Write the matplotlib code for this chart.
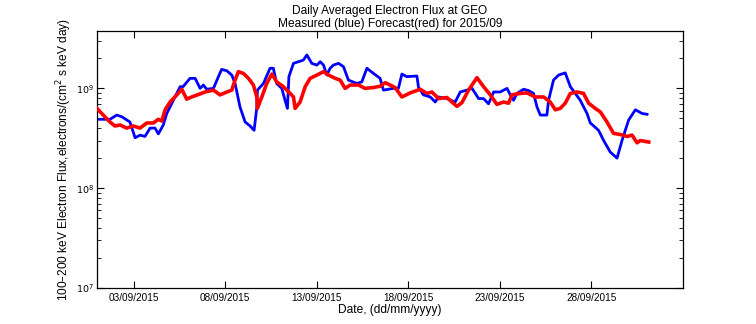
import numpy as np
import pandas as pd
import matplotlib
matplotlib.use("Agg")
import matplotlib.pyplot as plt
import matplotlib.dates as mdates
from matplotlib.ticker import LogLocator, NullFormatter, FixedLocator, FixedFormatter

# Measured flux (blue), time as fractional day of September 2015
day_meas = [1.00, 1.71, 2.08, 2.35, 2.80, 3.08, 3.35, 3.62, 3.90, 4.17, 4.35, 4.62,
            4.81, 5.17, 5.54, 5.70, 6.08, 6.36, 6.63, 6.81, 6.99, 7.36, 7.63, 7.81,
            8.09, 8.36, 8.54, 8.81, 9.09, 9.36, 9.58, 9.73, 9.76, 10.09, 10.45, 10.63,
            10.81, 11.09, 11.27, 11.40, 11.48, 11.73, 12.00, 12.27, 12.46, 12.73, 13.01,
            13.19, 13.37, 13.55, 13.73, 13.91, 14.19, 14.46, 14.73, 15.19, 15.46, 15.74,
            16.10, 16.46, 16.64, 17.19, 17.46, 17.65, 17.92, 18.47, 18.56, 18.83, 19.20,
            19.47, 19.65, 20.11, 20.56, 20.84, 21.20, 21.48, 21.84, 22.11, 22.38, 22.66,
            23.02, 23.39, 23.57, 23.75, 23.93, 24.30, 24.57, 24.84, 25.03, 25.21, 25.57,
            25.66, 25.93, 26.21, 26.57, 26.85, 27.12, 27.39, 27.76, 27.94, 28.39, 28.67,
            29.03, 29.40, 29.67, 30.03, 30.40, 30.77, 31.04]
flux_meas = [4.9e8, 4.9e8, 5.4e8, 5.2e8, 4.6e8, 3.2e8, 3.4e8, 3.3e8, 4.0e8, 4.0e8, 3.5e8, 4.3e8,
             5.6e8, 7.6e8, 1.04e9, 1.04e9, 1.26e9, 1.26e9, 1.0e9, 1.08e9, 0.98e9, 1.0e9, 1.31e9, 1.55e9,
             1.50e9, 1.36e9, 1.12e9, 6.5e8, 4.6e8, 4.2e8, 3.8e8, 6.5e8, 9.6e8, 1.12e9, 1.59e9, 1.59e9,
             1.12e9, 1.0e9, 7.6e8, 6.3e8, 1.31e9, 1.78e9, 1.85e9, 1.92e9, 2.16e9, 1.78e9, 1.71e9,
             1.85e9, 1.71e9, 1.36e9, 1.59e9, 1.71e9, 1.78e9, 1.65e9, 1.21e9, 1.12e9, 1.16e9, 1.59e9,
             1.41e9, 1.26e9, 9.6e8, 1.0e9, 1.0e9, 1.39e9, 1.31e9, 1.33e9, 1.02e9, 8.6e8, 8.2e8,
             7.3e8, 8.2e8, 7.9e8, 7.3e8, 9.2e8, 9.6e8, 1.0e9, 7.9e8, 7.9e8, 7.0e8, 9.2e8,
             9.2e8, 1.0e9, 8.6e8, 7.6e8, 8.9e8, 9.8e8, 9.5e8, 8.9e8, 6.5e8, 5.4e8, 5.4e8,
             7.6e8, 1.21e9, 1.36e9, 1.43e9, 1.04e9, 8.9e8, 7.6e8, 5.6e8, 4.5e8, 3.8e8, 3.0e8,
             2.3e8, 2.0e8, 3.0e8, 4.8e8, 6.1e8, 5.6e8, 5.5e8]

# Forecast flux (red)
day_fcst = [1.00, 1.34, 1.71, 1.98, 2.26, 2.62, 2.98, 3.35, 3.72, 4.08, 4.35, 4.54,
            4.72, 4.99, 5.36, 5.63, 5.90, 6.17, 6.63, 6.90, 7.36, 7.72, 8.09, 8.36,
            8.54, 8.72, 9.00, 9.27, 9.54, 9.73, 9.76, 10.00, 10.27, 10.55, 10.82, 11.18,
            11.55, 11.73, 11.82, 12.09, 12.37, 12.64, 13.01, 13.37, 13.64, 14.01, 14.28,
            14.55, 14.83, 15.28, 15.64, 16.10, 16.46, 16.74, 17.28, 17.65, 18.10, 18.65,
            19.02, 19.29, 19.65, 20.11, 20.38, 20.66, 20.93, 21.29, 21.75, 22.11, 22.48,
            22.84, 23.20, 23.48, 23.66, 24.11, 24.48, 24.93, 25.39, 25.75, 26.03, 26.30,
            26.57, 26.85, 27.21, 27.57, 27.85, 28.21, 28.49, 28.85, 29.21, 29.58, 29.95,
            30.22, 30.49, 30.67, 31.13]
flux_fcst = [6.3e8, 5.4e8, 4.6e8, 4.2e8, 4.3e8, 4.0e8, 4.2e8, 4.0e8, 4.5e8, 4.5e8, 4.9e8, 4.7e8,
             6.1e8, 7.3e8, 8.6e8, 9.8e8, 7.8e8, 8.2e8, 8.8e8, 9.2e8, 9.6e8, 8.6e8, 9.2e8, 9.6e8,
             1.21e9, 1.47e9, 1.41e9, 1.26e9, 1.08e9, 8.2e8, 6.3e8, 8.2e8, 1.12e9, 1.39e9, 1.16e9, 1.04e9,
             8.9e8, 8.2e8, 6.3e8, 7.3e8, 1.04e9, 1.26e9, 1.36e9, 1.47e9, 1.36e9, 1.26e9, 1.21e9,
             1.0e9, 1.08e9, 1.08e9, 1.0e9, 1.02e9, 1.05e9, 1.14e9, 1.02e9, 8.2e8, 9.0e8, 9.8e8,
             8.9e8, 9.2e8, 7.9e8, 8.1e8, 7.3e8, 6.6e8, 7.2e8, 9.6e8, 1.28e9, 1.04e9, 8.6e8,
             6.9e8, 7.3e8, 7.1e8, 8.6e8, 8.9e8, 9.0e8, 8.2e8, 8.2e8, 7.3e8, 6.1e8, 6.3e8,
             7.1e8, 8.9e8, 9.2e8, 8.9e8, 7.1e8, 6.3e8, 5.8e8, 4.6e8, 3.54e8, 3.45e8, 3.3e8,
             3.4e8, 2.85e8, 3.0e8, 2.9e8]

tick_days = [3, 8, 13, 18, 23, 28]
month_start = pd.Timestamp("2015-09-01")


def to_dates(days):
    return month_start + pd.to_timedelta(np.asarray(days) - 1.0, unit="D")


plt.rcParams["font.family"] = ["Liberation Sans", "DejaVu Sans"]

fig = plt.figure(figsize=(7.56, 3.24), dpi=100)
ax = fig.add_axes([0.1283, 0.1111, 0.7751, 0.7941])

ax.plot(to_dates(day_meas), flux_meas, color="#0000ff", lw=2.0, zorder=2)
ax.plot(to_dates(day_fcst), flux_fcst, color="#ff0000", lw=2.6, zorder=3)

ax.set_yscale("log")
ax.set_ylim(1e7, 3.78e9)
ax.set_xlim(month_start, month_start + pd.Timedelta(days=32))

ax.yaxis.set_major_locator(FixedLocator([1e7, 1e8, 1e9]))
ax.yaxis.set_major_formatter(FixedFormatter([r"$10^{7}$", r"$10^{8}$", r"$10^{9}$"]))
ax.yaxis.set_minor_locator(LogLocator(base=10, subs=np.arange(2, 10)))
ax.yaxis.set_minor_formatter(NullFormatter())

ax.set_xticks(to_dates(tick_days))
ax.xaxis.set_major_formatter(mdates.DateFormatter("%d/%m/%Y"))

ax.tick_params(which="both", direction="in", top=True, right=True, labelsize=7.2)
ax.tick_params(which="major", length=5, width=0.8)
ax.tick_params(which="minor", length=3, width=0.6)
ax.tick_params(axis="y", labelsize=6.8, pad=2)
for s in ax.spines.values():
    s.set_linewidth(0.9)

ax.set_title("Daily Averaged Electron Flux at GEO\nMeasured (blue) Forecast(red) for 2015/09",
             fontsize=8.6, pad=3, linespacing=1.05)
ax.set_xlabel("Date, (dd/mm/yyyy)", fontsize=8.6, labelpad=1)
ax.set_ylabel("100\u2013200 keV Electron Flux,electrons/(cm$^2$ s keV day)", fontsize=8.6, labelpad=2)

fig.savefig("out.png", dpi=100)
